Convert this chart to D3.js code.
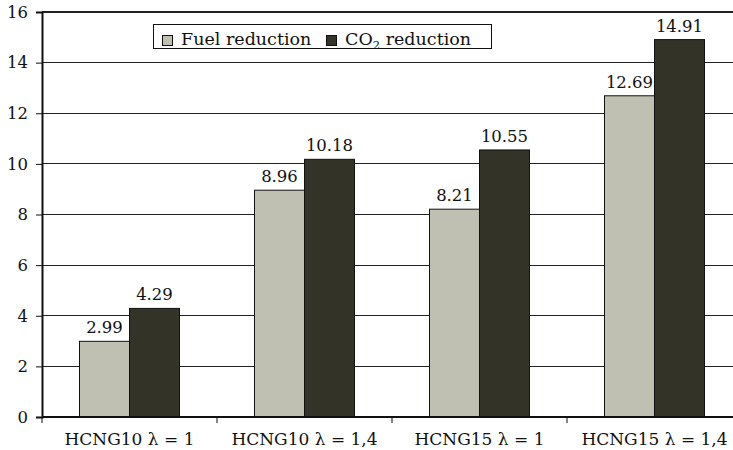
<!DOCTYPE html>
<html><head><meta charset="utf-8">
<script src="https://cdn.jsdelivr.net/npm/d3@7"></script>
<style>
body{margin:0;background:#fff;}
svg{display:block;font-family:"DejaVu Serif",serif;}
</style></head>
<body>
<svg id="c" width="733" height="450"></svg>
<script>
const categories = ["HCNG10 \u03bb = 1", "HCNG10 \u03bb = 1,4", "HCNG15 \u03bb = 1", "HCNG15 \u03bb = 1,4"];
const fuelReduction = [2.99, 8.96, 8.21, 12.69];
const co2Reduction = [4.29, 10.18, 10.55, 14.91];
const yTicks = [0, 2, 4, 6, 8, 10, 12, 14, 16];
const seriesNames = ["Fuel reduction", "CO2 reduction"];
const colors = ["#c0c0b2", "#333328"];

(function(){
const svg = d3.select("#c");
const pL = 42, pR = 742, pT = 12, pB = 417;
const x = d3.scaleBand().domain(categories).range([pL, pR]).paddingInner(0).paddingOuter(0);
const y = d3.scaleLinear().domain([0, 16]).range([pB, pT]);
const sub = d3.scaleBand().domain([0, 1]).range([37.5, x.bandwidth() - 37.5]);

// gridlines
svg.append("g").selectAll("line").data(yTicks.filter(d => d > 0)).join("line")
  .attr("x1", pL).attr("x2", 733)
  .attr("y1", d => y(d)).attr("y2", d => y(d))
  .attr("stroke", "#222").attr("stroke-width", d => d === 16 ? 2 : 1)
  .attr("shape-rendering", "crispEdges");

// bars
const groups = svg.append("g").selectAll("g").data(categories).join("g")
  .attr("transform", d => `translate(${x(d)},0)`);
const series = [fuelReduction, co2Reduction];
groups.each(function(cat, i) {
  const g = d3.select(this);
  series.forEach((s, k) => {
    g.append("rect")
      .attr("x", sub(k)).attr("width", sub.bandwidth())
      .attr("y", y(s[i])).attr("height", y(0) - y(s[i]))
      .attr("fill", colors[k]).attr("stroke", "#111").attr("stroke-width", 1);
    g.append("text")
      .attr("x", sub(k) + sub.bandwidth() / 2).attr("y", y(s[i]) - 8)
      .attr("text-anchor", "middle").attr("font-size", 16.5).attr("fill", "#111")
      .text(s[i].toFixed(2));
  });
});

// y axis
const yAxis = d3.axisLeft(y).tickValues(yTicks).tickSize(6).tickPadding(8);
const gy = svg.append("g").attr("transform", `translate(${pL},0)`).call(yAxis);
gy.select(".domain").attr("stroke", "#111").attr("stroke-width", 2);
gy.selectAll(".tick line").attr("stroke", "#111");
gy.selectAll("text").attr("font-size", 16.5).attr("font-family", "DejaVu Serif").attr("fill", "#111");

// x axis
const gx = svg.append("g").attr("transform", `translate(0,${pB})`);
gx.append("line").attr("x1", pL).attr("x2", 733).attr("y1", 0).attr("y2", 0)
  .attr("stroke", "#111").attr("stroke-width", 2);
gx.selectAll(".tk").data(categories).join("line")
  .attr("x1", d => x(d) + x.bandwidth()).attr("x2", d => x(d) + x.bandwidth())
  .attr("y1", 0).attr("y2", 6).attr("stroke", "#111");
gx.append("line").attr("x1", pL).attr("x2", pL).attr("y1", 0).attr("y2", 6).attr("stroke", "#111");
gx.selectAll("text").data(categories).join("text")
  .attr("x", d => x(d) + x.bandwidth() / 2).attr("y", 28)
  .attr("text-anchor", "middle").attr("font-size", 17).attr("fill", "#111")
  .text(d => d);

// legend
const lg = svg.append("g");
lg.append("rect").attr("x", 153.5).attr("y", 24.5).attr("width", 338).attr("height", 24)
  .attr("fill", "#fff").attr("stroke", "#111").attr("stroke-width", 1);
const lx = [162, 326];
seriesNames.forEach((n, k) => {
  lg.append("rect").attr("x", lx[k] + 0.5).attr("y", 35.5).attr("width", 10).attr("height", 10)
    .attr("fill", colors[k]).attr("stroke", "#111").attr("stroke-width", 1);
  const t = lg.append("text").attr("x", lx[k] + 19).attr("y", 45).attr("font-size", 17.5).attr("fill", "#111");
  if (k === 0) t.text(n);
  else {
    t.append("tspan").text("CO");
    t.append("tspan").attr("font-size", 11.5).attr("dy", 4).text("2");
    t.append("tspan").attr("dy", -4).text(" reduction");
  }
});
})();
</script>
</body></html>
